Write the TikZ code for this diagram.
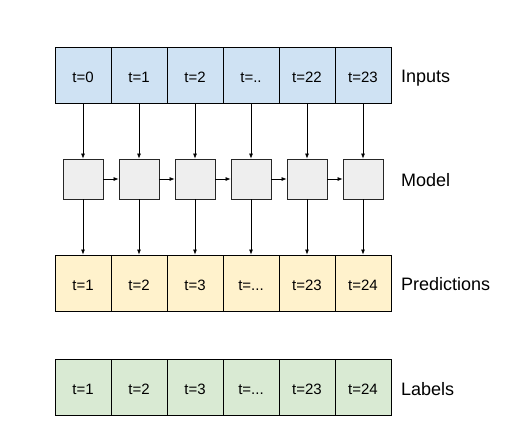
\documentclass[tikz,border=0pt]{standalone}
\usepackage{fontspec}
\setmainfont{Liberation Sans}
\usetikzlibrary{arrows.meta}
\definecolor{inblue}{HTML}{CFE2F3}
\definecolor{modgray}{HTML}{EEEEEE}
\definecolor{predy}{HTML}{FFF2CC}
\definecolor{labg}{HTML}{D9EAD3}
\newcommand{\twodots}{.\kern0pt.}
\newcommand{\threedots}{.\kern0pt.\kern0pt.}
\begin{document}
\begin{tikzpicture}[x=1pt,y=-1pt,
  cell/.style={draw=black,line width=0.9pt,minimum width=56pt,minimum height=56pt,inner sep=0pt,text height=14.7pt,text depth=0pt,font=\fontsize{15}{17}\selectfont},
  modbox/.style={draw=black!85,line width=0.8pt,fill=modgray,minimum width=40pt,minimum height=40pt,inner sep=0pt},
  rowlabel/.style={anchor=base west,inner sep=0pt,font=\fontsize{18}{20}\selectfont},
  conn/.style={line width=0.7pt,-{Latex[length=5pt,width=4pt]}}]
\useasboundingbox (0,0) rectangle (526,445);
\foreach \i/\a/\p in {0/{t=0}/{t=1},1/{t=1}/{t=2},2/{t=2}/{t=3},3/{t=\twodots}/{t=\threedots},4/{t=22}/{t=23},5/{t=23}/{t=24}}{
  \node[cell,fill=inblue] (in\i) at (83+56*\i,75) {\a};
  \node[modbox] (m\i) at (83+56*\i,179) {};
  \node[cell,fill=predy] (p\i) at (83+56*\i,283) {\p};
  \node[cell,fill=labg] (l\i) at (83+56*\i,387) {\p};
  \draw[conn] (in\i) -- (m\i);
  \draw[conn] (m\i) -- (p\i);
}
\foreach \i/\j in {0/1,1/2,2/3,3/4,4/5}{
  \draw[conn] (m\i) -- (m\j);
}
\node[rowlabel] (linputs) at (401,82.5) {Inputs};
\node[rowlabel] (lmodel) at (401,186.7) {Model};
\node[rowlabel] (lpred) at (401,290.7) {Predictions};
\node[rowlabel] (llab) at (401,395) {Labels};
\end{tikzpicture}
\end{document}
